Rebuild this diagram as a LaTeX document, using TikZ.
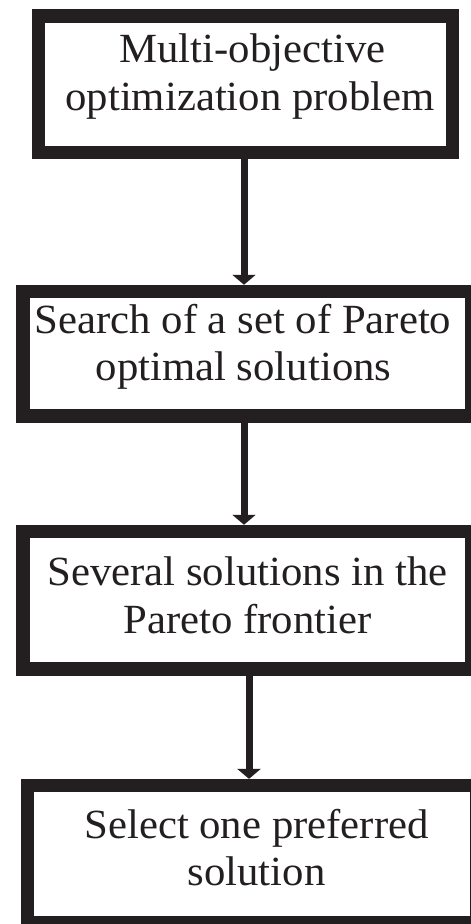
\documentclass[tikz,border=0pt]{standalone}
\usepackage{fontspec}
\setmainfont{Liberation Serif}[FakeStretch=1.03]
\usetikzlibrary{arrows.meta}
\definecolor{ink}{RGB}{35,31,32}
\begin{document}
\begin{tikzpicture}[x=1pt,y=-1pt,
  box/.style={draw=ink, line width=13.5pt, inner sep=0pt, fill=white},
  txt/.style={text=ink, inner sep=0pt, anchor=base, font=\fontsize{41.5}{48}\selectfont},
  arr/.style={draw=ink, line width=7pt, -{Triangle[width=23pt,length=10pt]}}]
\useasboundingbox (0,0) rectangle (471,924);
\fill[white] (0,0) rectangle (471,924);
% boxes
\node[box, minimum width=414pt, minimum height=136.5pt] (b1) at (245.5,84.25) {};
\node[box, minimum width=448.75pt, minimum height=124.5pt] (b2) at (247.4,353.75) {};
\node[box, minimum width=448.75pt, minimum height=137.5pt] (b3) at (247.4,600.25) {};
\node[box, minimum width=449.25pt, minimum height=136.75pt] (b4) at (252.1,854) {};
% texts
\node[txt] (t1a) at (252.5,62) {Multi-objective};
\node[txt] (t1b) at (250,110) {optimization problem};
\node[txt] (t2a) at (243,333) {Search of a set of Pareto};
\node[txt] (t2b) at (243.5,380) {optimal solutions};
\node[txt] (t3a) at (247.5,585) {Several solutions in the};
\node[txt] (t3b) at (247.5,633) {Pareto frontier};
\node[txt] (t4a) at (256.5,838) {Select one preferred};
\node[txt] (t4b) at (256.5,885) {solution};
% arrow x positions
\coordinate (x1) at (244,0);
\coordinate (x2) at (244,0);
\coordinate (x3) at (249,0);
\draw[arr] (b1.south -| x1) -- (b2.north -| x1);
\draw[arr] (b2.south -| x2) -- (b3.north -| x2);
\draw[arr] (b3.south -| x3) -- (b4.north -| x3);
\end{tikzpicture}
\end{document}
